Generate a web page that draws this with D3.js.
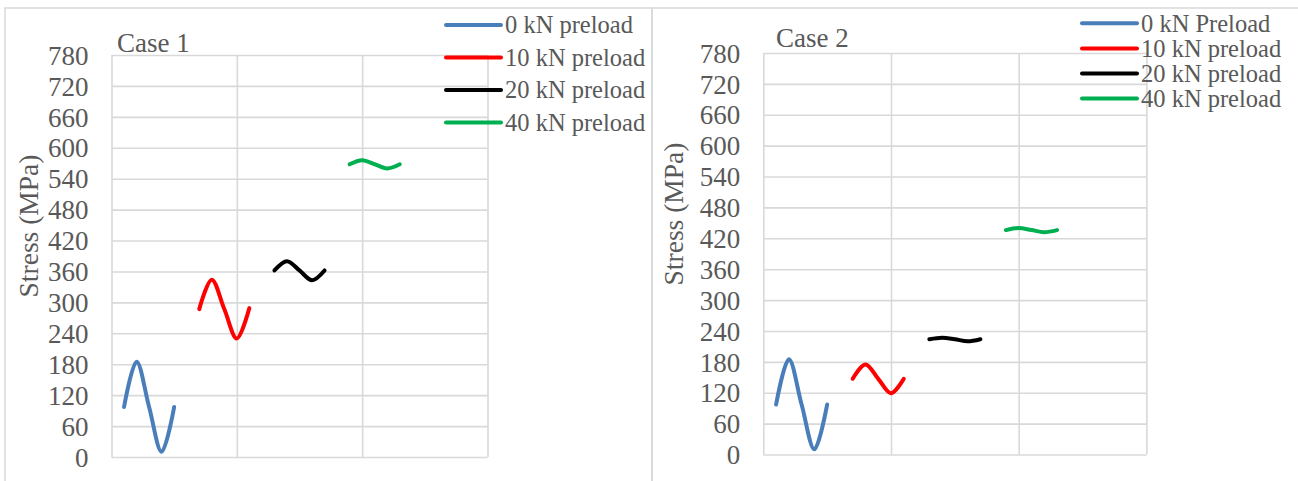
<!DOCTYPE html>
<html>
<head>
<meta charset="utf-8">
<script src="https://cdn.jsdelivr.net/npm/d3@7"></script>
<style>
  html, body { margin: 0; padding: 0; background: #ffffff; }
  svg { display: block; }
  text { font-family: "Liberation Serif", "Times New Roman", serif; fill: #595959; }
</style>
</head>
<body>
<svg id="chart" width="1298" height="481"></svg>
<script>
// ---------- data ----------
const yTickValues = [0, 60, 120, 180, 240, 300, 360, 420, 480, 540, 600, 660, 720, 780];
const xGridValues = [0, 1, 2, 3];

const seriesNamesCase1 = ["0 kN preload", "10 kN preload", "20 kN preload", "40 kN preload"];
const seriesNamesCase2 = ["0 kN Preload", "10 kN preload", "20 kN preload", "40 kN preload"];
const seriesColors = ["#4a7ebb", "#ff0000", "#000000", "#00b050"];

const x0kN  = [0.1, 0.2, 0.3, 0.4, 0.5];
const x10kN = [0.7, 0.8, 0.9, 1.0, 1.1];
const x20kN = [1.3, 1.4, 1.5, 1.6, 1.7];
const x40kN = [1.9, 2.0, 2.1, 2.2, 2.3];

const case1_0kN  = [97, 185, 97, 10, 97];
const case1_10kN = [287, 344, 287, 230, 289];
const case1_20kN = [362, 380, 362, 343, 362];
const case1_40kN = [568, 576, 568, 560, 568];

const case2_0kN  = [97, 185, 97, 10, 97];
const case2_10kN = [147, 175, 147, 119, 147];
const case2_20kN = [224, 227, 224, 220, 224];
const case2_40kN = [436, 440, 436, 432, 436];

const xSets = [x0kN, x10kN, x20kN, x40kN];

// ---------- drawing ----------
const svg = d3.select("#chart");

// outer panel frames
svg.append("rect").attr("x", 5).attr("y", 8).attr("width", 647).attr("height", 490)
  .attr("fill", "none").attr("stroke", "#d9d9d9").attr("stroke-width", 1.5);
svg.append("rect").attr("x", 652).attr("y", 8).attr("width", 660).attr("height", 490)
  .attr("fill", "none").attr("stroke", "#d9d9d9").attr("stroke-width", 1.5);

function drawPanel(cfg) {
  const x = d3.scaleLinear().domain([0, 3]).range([cfg.left, cfg.right]);
  const y = d3.scaleLinear().domain([0, 780]).range([cfg.bottom, cfg.top]);
  const g = svg.append("g");

  // horizontal gridlines
  const gy = g.append("g").attr("transform", `translate(${cfg.left},0)`)
    .call(d3.axisLeft(y).tickValues(yTickValues).tickSize(-(cfg.right - cfg.left)).tickFormat(""));
  gy.select(".domain").remove();
  gy.selectAll(".tick line").attr("stroke", "#d9d9d9").attr("stroke-width", 1.6);

  // vertical gridlines
  const gx = g.append("g").attr("transform", `translate(0,${cfg.bottom})`)
    .call(d3.axisBottom(x).tickValues(xGridValues).tickSize(-(cfg.bottom - cfg.top)).tickFormat(""));
  gx.select(".domain").remove();
  gx.selectAll(".tick line").attr("stroke", "#d9d9d9").attr("stroke-width", 1.6);

  // y tick labels
  const ga = g.append("g").attr("transform", `translate(${cfg.left - 23},0)`)
    .call(d3.axisLeft(y).tickValues(yTickValues).tickSize(0).tickPadding(0).tickFormat(d3.format("d")));
  ga.select(".domain").remove();
  ga.selectAll(".tick text")
    .attr("font-family", "Liberation Serif, serif")
    .attr("font-size", 27).attr("fill", "#595959").attr("dy", "0.34em");

  // axis title
  g.append("text")
    .attr("transform", `translate(${cfg.titleX},${cfg.titleY}) rotate(-90)`)
    .attr("text-anchor", "middle").attr("font-size", 27.5).attr("dy", "0.34em")
    .text("Stress (MPa)");

  // case title
  g.append("text").attr("x", cfg.caseX).attr("y", cfg.caseY)
    .attr("font-size", 27).text(cfg.caseTitle);

  // series lines
  const line = d3.line()
    .x(d => x(d[0])).y(d => y(d[1]))
    .curve(d3.curveCardinal.tension(0));
  cfg.series.forEach((vals, i) => {
    const pts = vals.map((v, j) => [xSets[i][j], v]);
    g.append("path").datum(pts).attr("d", line)
      .attr("fill", "none").attr("stroke", seriesColors[i])
      .attr("stroke-width", 4).attr("stroke-linecap", "round").attr("stroke-linejoin", "round");
  });

  // legend
  const lg = g.append("g");
  cfg.names.forEach((name, i) => {
    const yy = cfg.legY + i * cfg.legStep;
    lg.append("line").attr("x1", cfg.legX).attr("x2", cfg.legX + 55)
      .attr("y1", yy).attr("y2", yy)
      .attr("stroke", seriesColors[i]).attr("stroke-width", 4).attr("stroke-linecap", "round");
    lg.append("text").attr("x", cfg.legX + 59).attr("y", yy).attr("dy", "0.34em")
      .attr("font-size", 24.5).text(name);
  });
}

drawPanel({
  left: 111.5, right: 487.5, top: 55, bottom: 457,
  titleX: 29, titleY: 226, caseX: 117, caseY: 52, caseTitle: "Case 1",
  series: [case1_0kN, case1_10kN, case1_20kN, case1_40kN],
  names: seriesNamesCase1, legX: 446, legY: 25, legStep: 32.5
});

drawPanel({
  left: 763.3, right: 1146.4, top: 53, bottom: 454.5,
  titleX: 674, titleY: 214, caseX: 776, caseY: 46.5, caseTitle: "Case 2",
  series: [case2_0kN, case2_10kN, case2_20kN, case2_40kN],
  names: seriesNamesCase2, legX: 1082, legY: 23.3, legStep: 25.1
});
</script>
</body>
</html>
